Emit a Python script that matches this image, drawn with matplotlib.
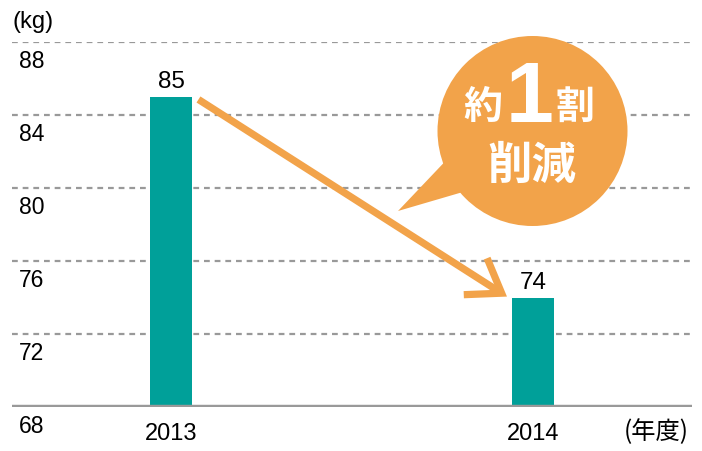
import matplotlib.pyplot as plt
from matplotlib.patches import Circle, Polygon
from matplotlib.transforms import offset_copy

# data
years = ["2013", "2014"]
weights = [85, 74]
yticks = [68, 72, 76, 80, 84, 88]

teal = "#00A099"
orange = "#F2A34A"
grey = "#999999"

plt.rcParams['font.family'] = ['Liberation Sans', 'Noto Sans CJK JP']

fig = plt.figure(figsize=(7.02, 4.52), dpi=100)
W, H = 702, 452
ax = fig.add_axes([12 / W, (H - 408) / H, 680 / W, 365 / H])
ax.set_xlim(-0.439, 1.439)
ax.set_ylim(68, 88)

xs = list(range(len(years)))
bars = ax.bar(xs, weights, width=0.116, bottom=0, color=teal, zorder=2)

# dashed grid lines
for v in yticks[1:]:
    ax.axhline(v, color=grey, lw=1.6, ls=(0, (2.6, 2.2)), zorder=1)
ax.axhline(68, color=grey, lw=3.2, zorder=3)

for s in ax.spines.values():
    s.set_visible(False)
ax.set_yticks([])
ax.set_xticks(xs)
ax.set_xticklabels(years, fontsize=17)
ax.tick_params(axis='x', length=0, pad=11)

# y labels sit just below each grid line
lab_tr = offset_copy(ax.get_yaxis_transform(), fig=fig, x=0, y=-18, units='dots')
for v in yticks:
    ax.text(0.01, v, str(v), transform=lab_tr, fontsize=16.5, va='center', ha='left')

# value labels
for x, v in zip(xs, weights):
    ax.annotate(str(v), (x, v), xytext=(0, 7), textcoords='offset points',
                ha='center', va='baseline', fontsize=17.5)

# arrow between bars
ax.annotate("", xy=(xs[1] - 0.072, weights[1] + 0.05), xytext=(xs[0] + 0.076, weights[0] - 0.15),
            arrowprops=dict(arrowstyle='->,head_length=1.12,head_width=0.78', mutation_scale=20,
                            lw=5.2, color=orange, shrinkA=0, shrinkB=0, capstyle='butt',
                            joinstyle='miter'), zorder=4)

# overlay in pixel coordinates for the callout and captions
ov = fig.add_axes([0, 0, 1, 1])
ov.set_xlim(0, W)
ov.set_ylim(H, 0)
ov.axis('off')
ov.patch.set_alpha(0)

ov.add_patch(Circle((532.5, 132), 95, color=orange, lw=0, zorder=5))
ov.add_patch(Polygon([(455, 152), (398, 212), (480, 188)], closed=True, color=orange, lw=0, zorder=5))

cjk = ['Noto Sans CJK JP']
ov.text(483, 107, "約", color='white', fontsize=28, fontweight='bold', family=cjk,
        ha='center', va='center', zorder=6)
ov.text(530, 100, "1", color='white', fontsize=62, fontweight='bold', family=['Liberation Sans'],
        ha='center', va='center', zorder=6)
ov.text(575, 107, "割", color='white', fontsize=28, fontweight='bold', family=cjk,
        ha='center', va='center', zorder=6)
ov.text(532, 166, "削減", color='white', fontsize=32, fontweight='bold', family=cjk,
        ha='center', va='center', zorder=6)

ov.text(13, 22, "(kg)", fontsize=17, ha='left', va='center')
ov.text(689, 432, "(年度)", fontsize=17.5, ha='right', va='center', family=cjk)

fig.savefig("out.png", dpi=100)
